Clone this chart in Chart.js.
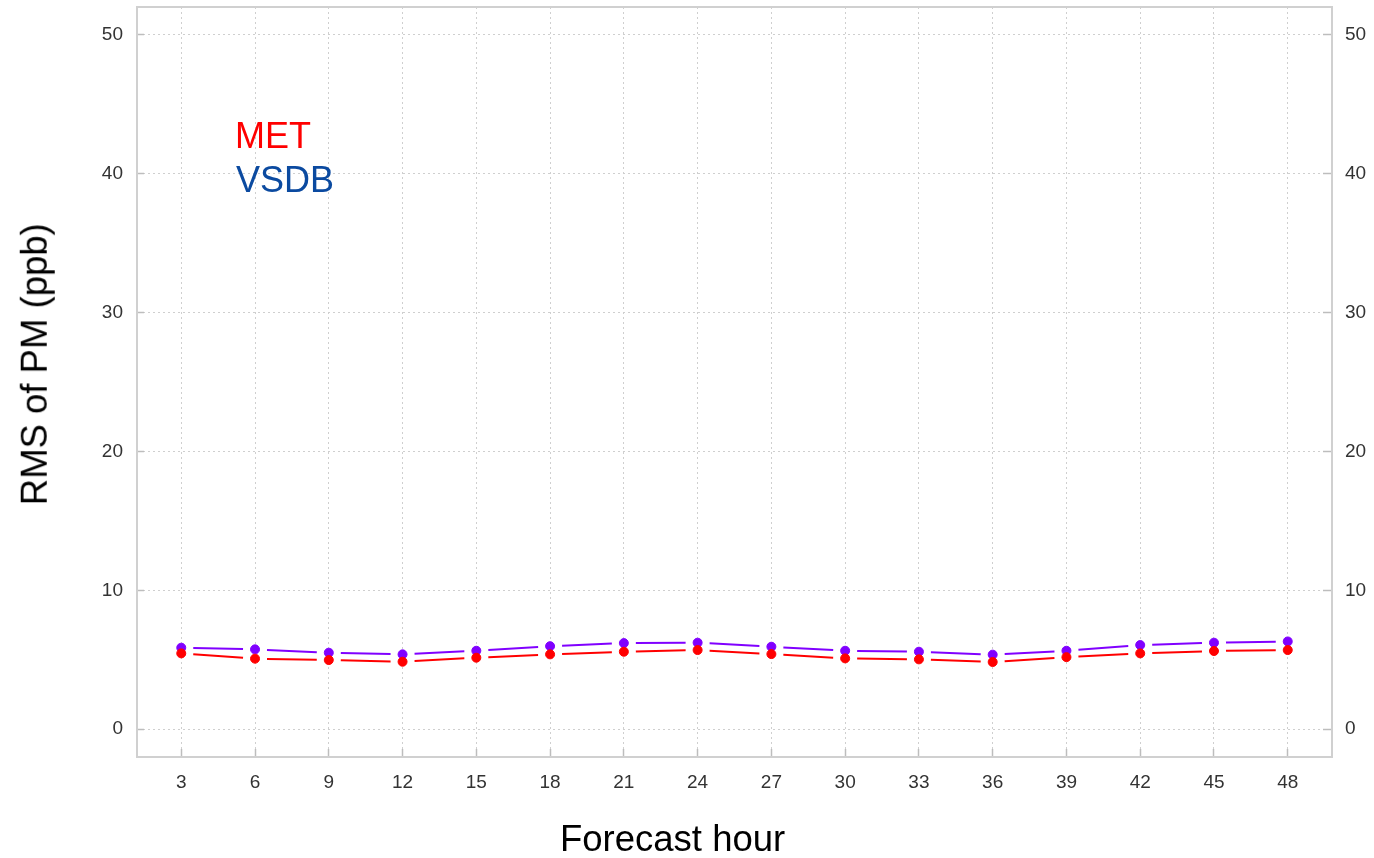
<!DOCTYPE html>
<html>
<head>
<meta charset="utf-8">
<script src="https://cdn.jsdelivr.net/npm/chart.js@4/dist/chart.umd.min.js"></script>
<style>
  html, body { margin: 0; padding: 0; background: #fff; }
  #wrap { position: relative; width: 1374px; height: 858px; overflow: hidden; }
  #c { position: absolute; left: 0; top: 0; }
  .lg { position: absolute; font-family: "Liberation Sans", Arial, sans-serif; font-size: 36px; line-height: 36px; white-space: nowrap; }
  .ttl { position: absolute; font-family: "Liberation Sans", Arial, sans-serif; font-size: 36.5px; line-height: 36.5px; white-space: nowrap; color: #000; }
</style>
</head>
<body>
<div id="wrap">
  <canvas id="c" width="1374" height="858"></canvas>
  <div class="lg" id="lgMet" style="left:235px; top:118px; color:#ff0000;">MET</div>
  <div class="lg" id="lgVsdb" style="left:236px; top:162px; color:#0b4aa0;">VSDB</div>
  <div class="ttl" id="xTitle" style="left:560px; top:821px;">Forecast hour</div>
  <div class="ttl" id="yTitle" style="left:-165px; top:345.75px; width:400px; height:36.5px; text-align:center; transform:rotate(-90deg); transform-origin:50% 50%;">RMS of PM (ppb)</div>
</div>
<script>
const hours = [3, 6, 9, 12, 15, 18, 21, 24, 27, 30, 33, 36, 39, 42, 45, 48];
const metValues  = [5.46, 5.08, 4.98, 4.86, 5.15, 5.39, 5.58, 5.70, 5.41, 5.10, 5.03, 4.84, 5.19, 5.46, 5.63, 5.70];
const vsdbValues = [5.87, 5.75, 5.51, 5.39, 5.65, 5.98, 6.20, 6.23, 5.94, 5.65, 5.58, 5.37, 5.65, 6.06, 6.23, 6.32];
const xTickValues = [3, 6, 9, 12, 15, 18, 21, 24, 27, 30, 33, 36, 39, 42, 45, 48];
const yTickValues = [0, 10, 20, 30, 40, 50];
const seriesNames = ['MET', 'VSDB'];

const GAP = 12;
function gapDash(ctx) {
  const p0 = ctx.p0, p1 = ctx.p1;
  const L = Math.hypot(p1.x - p0.x, p1.y - p0.y);
  return [0, GAP, Math.max(0, L - 2 * GAP), 10000];
}
function altColor(a, b) {
  return ctx => (ctx.p0DataIndex % 2 === 0 ? a : b);
}
function noPad(s) { s.paddingTop = 0; s.paddingBottom = 0; s.paddingLeft = 0; s.paddingRight = 0; }

const tickFont = { family: '"Liberation Sans", Arial, sans-serif', size: 19 };
const TICK_COLOR = '#bdbdbd';
const borderCfg = { display: true, color: '#d0d0d0', width: 2, dash: [2, 3] };

new Chart(document.getElementById('c'), {
  type: 'line',
  data: {
    datasets: [
      {
        label: seriesNames[0],
        data: hours.map((h, i) => ({ x: h, y: metValues[i] })),
        borderColor: '#ff0000',
        backgroundColor: '#ff0000',
        pointBackgroundColor: '#ff0000',
        pointBorderColor: '#ff0000',
        pointRadius: 4.5,
        pointBorderWidth: 1,
        borderWidth: 2,
        tension: 0,
        segment: { borderDash: gapDash, borderColor: altColor('#ff0000', 'rgb(255,0,0)') }
      },
      {
        label: seriesNames[1],
        data: hours.map((h, i) => ({ x: h, y: vsdbValues[i] })),
        borderColor: '#8000ff',
        backgroundColor: '#8000ff',
        pointBackgroundColor: '#8000ff',
        pointBorderColor: '#8000ff',
        pointRadius: 4.5,
        pointBorderWidth: 1,
        borderWidth: 2,
        tension: 0,
        segment: { borderDash: gapDash, borderColor: altColor('#8000ff', 'rgb(128,0,255)') }
      }
    ]
  },
  options: {
    responsive: false,
    animation: false,
    events: [],
    layout: { padding: { top: 7, left: 0, right: 0, bottom: 0 } },
    plugins: { legend: { display: false }, tooltip: { enabled: false } },
    scales: {
      x: {
        type: 'linear', position: 'bottom', min: 1.2, max: 49.8,
        afterBuildTicks: s => { s.ticks = xTickValues.map(v => ({ value: v })); },
        afterFit: s => { s.height = 101; noPad(s); },
        ticks: { font: tickFont, color: '#333', padding: 22, maxRotation: 0, autoSkip: false },
        grid: { color: '#cfcfcf', lineWidth: 1, drawTicks: true, tickLength: -8, tickColor: TICK_COLOR, tickWidth: 1.5 },
        border: borderCfg,
        title: { display: false }
      },
      x2: {
        type: 'linear', position: 'top', min: 1.2, max: 49.8,
        afterFit: s => { s.height = 0; noPad(s); },
        ticks: { display: false },
        grid: { display: false, drawTicks: false },
        border: { display: true, color: '#d0d0d0', width: 2 }
      },
      y: {
        type: 'linear', position: 'left', min: -2, max: 52,
        afterBuildTicks: s => { s.ticks = yTickValues.map(v => ({ value: v })); },
        afterFit: s => { s.width = 137; noPad(s); },
        ticks: { font: tickFont, color: '#333', padding: 21 },
        grid: { color: '#cfcfcf', lineWidth: 1, drawTicks: true, tickLength: -7, tickColor: TICK_COLOR, tickWidth: 1.5 },
        border: borderCfg,
        title: { display: false }
      },
      y2: {
        type: 'linear', position: 'right', min: -2, max: 52,
        afterBuildTicks: s => { s.ticks = yTickValues.map(v => ({ value: v })); },
        afterFit: s => { s.width = 42; noPad(s); },
        ticks: { font: tickFont, color: '#333', padding: 22 },
        grid: { display: true, drawOnChartArea: false, drawTicks: true, tickLength: -9, tickColor: TICK_COLOR, tickWidth: 1.5 },
        border: { display: true, color: '#d0d0d0', width: 2 }
      }
    }
  }
});
</script>
</body>
</html>
